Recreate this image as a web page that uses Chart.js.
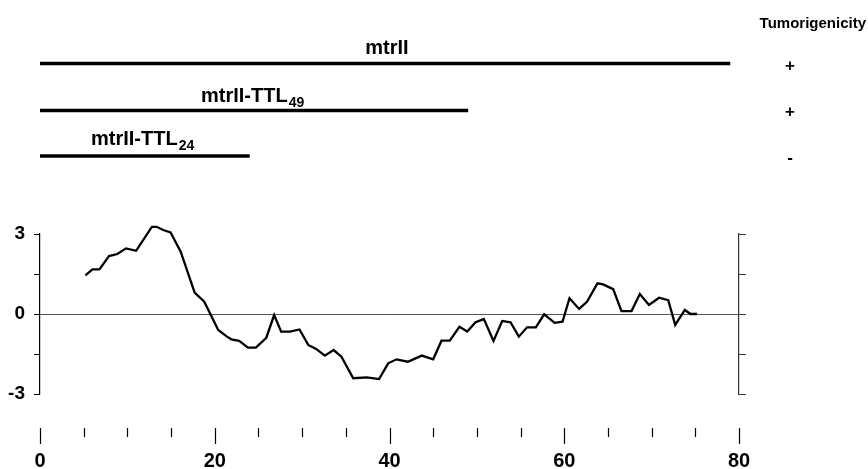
<!DOCTYPE html>
<html>
<head>
<meta charset="utf-8">
<script src="https://cdn.jsdelivr.net/npm/chart.js@4.4.1/dist/chart.umd.min.js"></script>
<style>
  html, body { margin: 0; padding: 0; background: #fff; }
  #wrap { position: relative; width: 868px; height: 469px; }
</style>
</head>
<body>
<div id="wrap"><canvas id="c" width="868" height="469"></canvas></div>
<script>
// ---- data ----
const positions = [5.2, 6.0, 6.8, 7.9, 8.85, 9.85, 11.0, 12.8, 13.35, 14.1, 14.95, 16.1, 17.7, 18.8, 20.4, 21.4, 21.9, 22.8, 23.8, 24.7, 25.9, 26.8, 27.6, 28.6, 29.7, 30.7, 31.6, 32.6, 33.6, 34.5, 35.85, 37.4, 38.8, 39.85, 40.8, 42.1, 43.7, 45.0, 45.95, 46.9, 48.0, 48.9, 49.85, 50.8, 51.9, 52.9, 53.85, 54.8, 55.75, 56.75, 57.7, 58.9, 59.8, 60.6, 61.7, 62.6, 63.8, 64.45, 65.6, 66.55, 67.7, 68.65, 69.7, 70.85, 71.9, 72.7, 73.8, 74.45, 75.2];
const hydropathy = [1.45, 1.67, 1.67, 2.17, 2.25, 2.46, 2.37, 3.27, 3.27, 3.15, 3.06, 2.34, 0.8, 0.46, -0.6, -0.85, -0.95, -1.01, -1.26, -1.26, -0.89, -0.04, -0.66, -0.66, -0.58, -1.16, -1.31, -1.56, -1.35, -1.6, -2.41, -2.38, -2.44, -1.85, -1.7, -1.79, -1.56, -1.7, -1.0, -1.0, -0.48, -0.66, -0.31, -0.19, -1.01, -0.26, -0.31, -0.85, -0.5, -0.5, -0.01, -0.33, -0.29, 0.59, 0.19, 0.46, 1.15, 1.11, 0.93, 0.11, 0.11, 0.75, 0.34, 0.61, 0.52, -0.41, 0.15, 0.0, 0.0];
const xLabeledTicks = [0, 20, 40, 60, 80];
const yLabeledTicks = [-3, 0, 3];
const constructNames = ['mtrII', 'mtrII-TTL', 'mtrII-TTL'];
const constructSubscripts = ['', '49', '24'];
const constructEnds = [79, 49, 24];
const tumorigenicity = ['+', '+', '-'];
const tumorHeader = 'Tumorigenicity';

// ---- layout (pixels) ----
const FONT = '"Liberation Sans", Arial, sans-serif';
const barY = [63.5, 110.5, 156];
const labelBaseline = [54, 102, 145];
const labelX = [387, 201, 91];       // center for first, left for others
const labelAlign = ['center', 'left', 'left'];
const signX = 790;
const signY = [66, 112, 158];

const points = positions.map((x, i) => ({ x: x, y: hydropathy[i] }));

const annotations = {
  id: 'annotations',
  afterDraw(chart) {
    const ctx = chart.ctx;
    const xs = chart.scales.x;
    ctx.save();
    for (let i = 0; i < constructNames.length; i++) {
      const x0 = xs.getPixelForValue(0);
      const x1 = xs.getPixelForValue(constructEnds[i]);
      ctx.strokeStyle = '#000';
      ctx.lineWidth = 3.5;
      ctx.beginPath();
      ctx.moveTo(x0, barY[i]);
      ctx.lineTo(x1, barY[i]);
      ctx.stroke();

      ctx.fillStyle = '#000';
      ctx.textBaseline = 'alphabetic';
      ctx.font = 'bold 20px ' + FONT;
      const mainW = ctx.measureText(constructNames[i]).width;
      ctx.font = 'bold 14px ' + FONT;
      const subW = constructSubscripts[i] ? ctx.measureText(constructSubscripts[i]).width + 1 : 0;
      const left = labelAlign[i] === 'center' ? labelX[i] - (mainW + subW) / 2 : labelX[i];
      ctx.textAlign = 'left';
      ctx.font = 'bold 20px ' + FONT;
      ctx.fillText(constructNames[i], left, labelBaseline[i]);
      if (constructSubscripts[i]) {
        ctx.font = 'bold 14px ' + FONT;
        ctx.fillText(constructSubscripts[i], left + mainW + 1, labelBaseline[i] + 5);
      }
      ctx.font = 'bold 17px ' + FONT;
      ctx.textAlign = 'center';
      ctx.textBaseline = 'middle';
      ctx.fillText(tumorigenicity[i], signX, signY[i]);
    }
    ctx.font = 'bold 15px ' + FONT;
    ctx.textAlign = 'right';
    ctx.textBaseline = 'alphabetic';
    ctx.fillText(tumorHeader, 866, 28);

    // detached bottom tick marks
    ctx.strokeStyle = '#000';
    ctx.lineWidth = 1.2;
    xs.ticks.forEach(t => {
      const px = Math.round(xs.getPixelForValue(t.value)) + 0.5;
      const major = xLabeledTicks.includes(t.value);
      ctx.beginPath();
      ctx.moveTo(px, 428);
      ctx.lineTo(px, major ? 444 : 437);
      ctx.stroke();
    });
    ctx.restore();
  }
};

new Chart(document.getElementById('c'), {
  type: 'line',
  data: {
    datasets: [{
      data: points,
      borderColor: '#000',
      borderWidth: 2.3,
      pointRadius: 0,
      tension: 0,
      fill: false,
      clip: false
    }]
  },
  options: {
    responsive: false,
    animation: false,
    layout: { padding: { top: 234, right: 122, left: 6, bottom: 0 } },
    plugins: { legend: { display: false }, tooltip: { enabled: false } },
    scales: {
      x: {
        type: 'linear',
        min: 0, max: 80,
        border: { display: false },
        grid: { display: true, drawOnChartArea: false, drawTicks: true, tickLength: 57, color: 'rgba(0,0,0,0)', tickColor: 'rgba(0,0,0,0)' },
        afterFit: s => { s.height = 75; },
        ticks: {
          stepSize: 5,
          autoSkip: false,
          maxRotation: 0,
          padding: 0,
          color: '#000',
          font: { family: FONT, size: 20, weight: 'bold', lineHeight: 1 },
          callback: v => xLabeledTicks.includes(v) ? String(v) : ''
        }
      },
      y: {
        min: -3, max: 3,
        position: 'left',
        afterFit: s => { s.width = 34; },
        border: { display: true, color: '#000', width: 1.2 },
        grid: {
          drawOnChartArea: true,
          drawTicks: true,
          tickLength: 6,
          tickColor: '#000',
          color: c => (c.tick && c.tick.value === 0) ? '#555' : 'rgba(0,0,0,0)',
          lineWidth: 1
        },
        ticks: {
          stepSize: 1.5,
          padding: 9,
          color: '#000',
          font: { family: FONT, size: 19, weight: 'bold' },
          callback: v => yLabeledTicks.includes(v) ? String(v) : ''
        }
      },
      y2: {
        min: -3, max: 3,
        position: 'right',
        afterFit: s => { s.width = 7; },
        border: { display: true, color: '#333', width: 1.2 },
        grid: { drawOnChartArea: false, drawTicks: true, tickLength: 7, tickColor: '#333' },
        ticks: { stepSize: 1.5, display: false }
      }
    }
  },
  plugins: [annotations]
});
</script>
</body>
</html>
